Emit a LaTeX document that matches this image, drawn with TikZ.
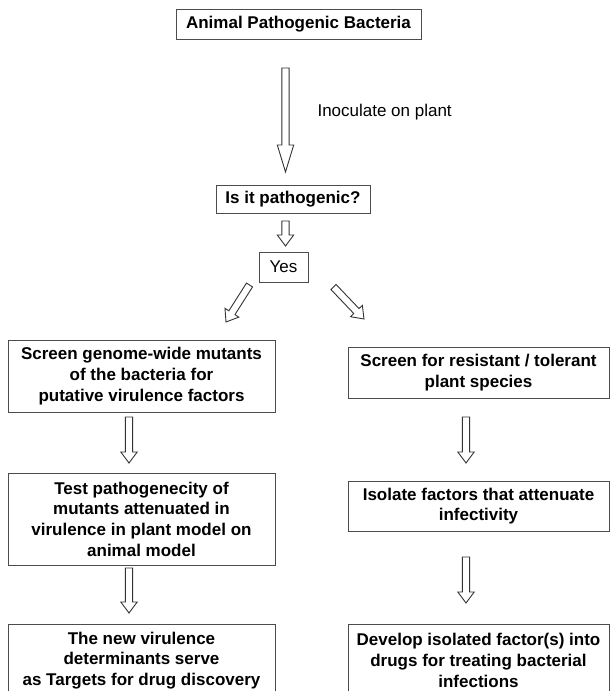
\documentclass[tikz,border=0pt]{standalone}
\usepackage{fontspec}
\setmainfont{Liberation Sans}
\usetikzlibrary{calc}
\tikzset{>=stealth}
\tikzset{box/.style={draw=black!70,line width=.8pt,align=center,inner sep=0pt,
    font=\fontsize{17}{20.7}\selectfont\bfseries},
  plainbox/.style={box,font=\fontsize{17}{20.7}\selectfont},
  arrowline/.style={draw=black!80,line width=.9pt,fill=white,line join=miter}}
\newcommand{\hollowarrow}[3]{%
  \coordinate (hb) at ($(#2)!#3!(#1)$);
  \draw[arrowline] ($(#1)!3.6pt!90:(#2)$) -- ($(hb)!3.6pt!90:(#2)$) -- ($(hb)!8.2pt!90:(#2)$)
    -- (#2) -- ($(hb)!8.2pt!-90:(#2)$) -- ($(hb)!3.6pt!-90:(#2)$) -- ($(#1)!3.6pt!-90:(#2)$) -- cycle;}

\begin{document}
\begin{tikzpicture}[x=1pt,y=-1pt]
\useasboundingbox (0,0) rectangle (610,691);
\clip (0,0) rectangle (610,691);
\node[box,minimum width=245,minimum height=30] (bacteria) at (298.5,24) {Animal Pathogenic Bacteria};
\node[anchor=west,font=\fontsize{17}{20.7}\selectfont] (inoc) at (314,112) {Inoculate on plant};
\node[box,minimum width=154,minimum height=28] (pathogenic) at (293,199.5) {Is it pathogenic?};
\node[plainbox,minimum width=49,minimum height=30] (yes) at (283.5,267) {Yes};
\node[box,minimum width=267,minimum height=72] (screenmut) at (141.5,376)
  {Screen genome-wide mutants\\of the bacteria for\\putative virulence factors};
\node[box,minimum width=267,minimum height=92] (testpath) at (141.5,519)
  {Test pathogenecity of\\mutants attenuated in\\virulence in plant model on\\animal model};
\node[box,minimum width=267,minimum height=72,anchor=north] (targets) at (141.5,624)
  {The new virulence\\determinants serve\\as Targets for drug discovery};
\node[box,minimum width=261,minimum height=51] (screenres) at (478.5,372.5)
  {Screen for resistant / tolerant\\plant species};
\node[box,minimum width=261,minimum height=50] (isolate) at (478.5,506)
  {Isolate factors that attenuate\\infectivity};
\node[box,minimum width=261,minimum height=72,anchor=north] (develop) at (478.5,624)
  {Develop isolated factor(s) into\\drugs for treating bacterial\\infections};
\coordinate (b1) at (285.5,68);  \coordinate (b2) at (285.5,172);
\coordinate (p1) at (285.5,221); \coordinate (p2) at (285.5,246);
\coordinate (yl1) at (249.5,285); \coordinate (yl2) at (226,322);
\coordinate (yr1) at (333.5,287); \coordinate (yr2) at (364,319);
\coordinate (l1) at (129,417); \coordinate (l2) at (129,463);
\coordinate (l3) at (129,568); \coordinate (l4) at (129,613);
\coordinate (r1) at (466,417); \coordinate (r2) at (466,463);
\coordinate (r3) at (466,557); \coordinate (r4) at (466,603);
\hollowarrow{b1}{b2}{27pt}
\hollowarrow{p1}{p2}{11pt}
\hollowarrow{yl1}{yl2}{11pt}
\hollowarrow{yr1}{yr2}{11pt}
\hollowarrow{l1}{l2}{11pt}
\hollowarrow{l3}{l4}{11pt}
\hollowarrow{r1}{r2}{11pt}
\hollowarrow{r3}{r4}{11pt}
\end{tikzpicture}
\end{document}
